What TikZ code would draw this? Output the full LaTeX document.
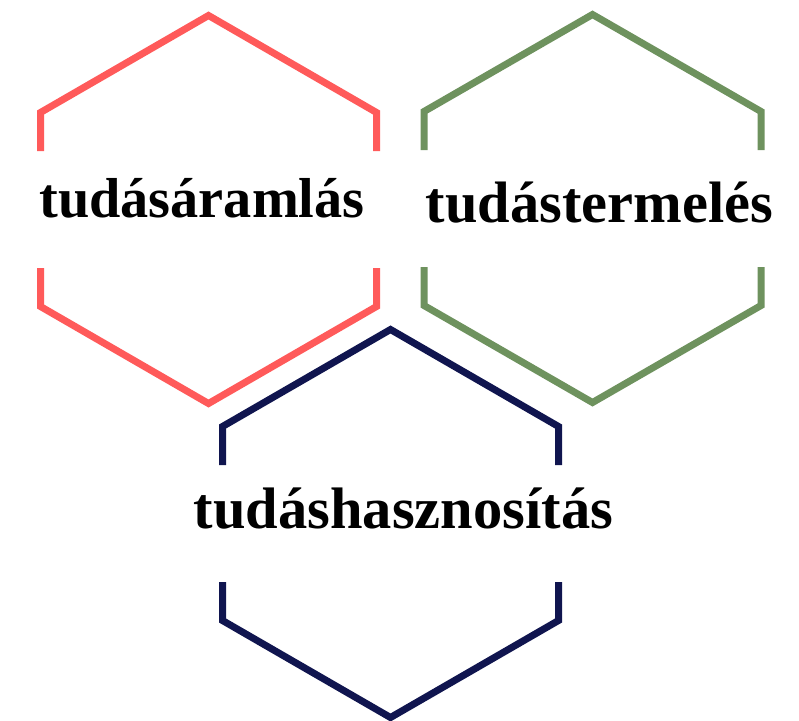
\documentclass[tikz,border=0pt]{standalone}
\usepackage{fontspec}
\setmainfont{Liberation Serif}
\usetikzlibrary{positioning}
\definecolor{hexred}{HTML}{FF5A5A}
\definecolor{hexgreen}{HTML}{6E925E}
\definecolor{hexnavy}{HTML}{10154F}
\tikzset{
  hexline/.style={line width=7pt, miter limit=10},
  hexlabel/.style={font=\fontsize{#1}{#1}\selectfont\bfseries, anchor=base, inner sep=0pt},
  hexlabel/.default=57
}

\begin{document}
\begin{tikzpicture}[x=1pt, y=-1pt]
  \useasboundingbox (0,0) rectangle (799,720);

  % tudásáramlás - upper left
  \begin{scope}[shift={(208.5,209.5)}]
    \draw[hexline, hexred] (-168,-58.5) -- (-168,-97) -- (0,-194) -- (168,-97) -- (168,-58.5);
    \draw[hexline, hexred] (-168,58.5) -- (-168,97) -- (0,194) -- (168,97) -- (168,58.5);
    \node[hexlabel=56.3] (flow) at (-6.5,7.5) {tudásáramlás};
  \end{scope}

  % tudástermelés - upper right
  \begin{scope}[shift={(592.5,208.5)}]
    \draw[hexline, hexgreen] (-168.5,-58.5) -- (-168.5,-97) -- (0,-194) -- (168.5,-97) -- (168.5,-58.5);
    \draw[hexline, hexgreen] (-168.5,58.5) -- (-168.5,97) -- (0,194) -- (168.5,97) -- (168.5,58.5);
    \node[hexlabel=58.4] (production) at (7,13.5) {tudástermelés};
  \end{scope}

  % tudáshasznosítás - bottom
  \begin{scope}[shift={(390.5,523.5)}]
    \draw[hexline, hexnavy] (-168,-58.5) -- (-168,-97) -- (0,-194) -- (168,-97) -- (168,-58.5);
    \draw[hexline, hexnavy] (-168,58.5) -- (-168,97) -- (0,194) -- (168,97) -- (168,58.5);
    \node[hexlabel=58.5] (use) at (13,4.5) {tudáshasznosítás};
  \end{scope}
\end{tikzpicture}
\end{document}
